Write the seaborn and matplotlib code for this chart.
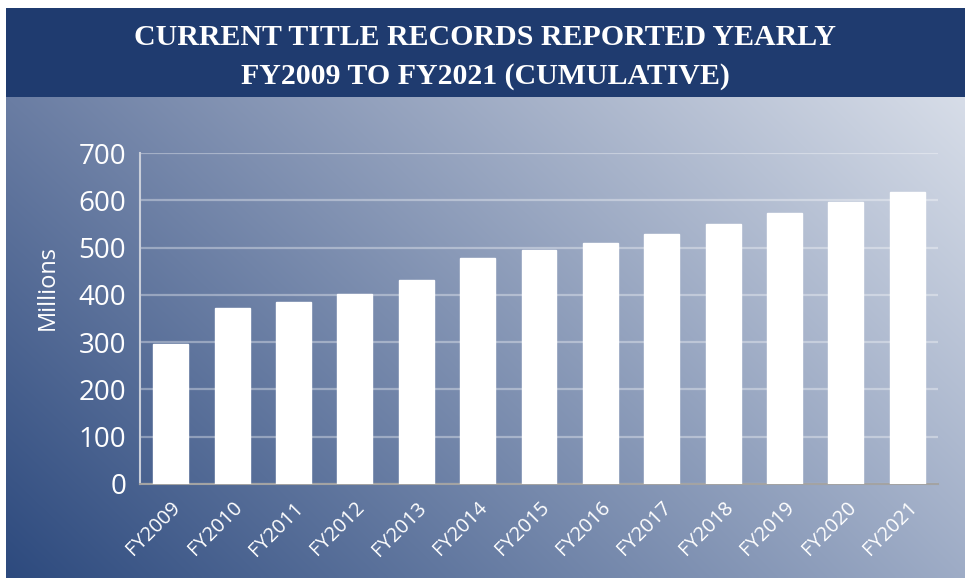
import numpy as np
import pandas as pd
import matplotlib
matplotlib.use("Agg")
import matplotlib.pyplot as plt
import seaborn as sns
from matplotlib.colors import to_rgb

categories = ["FY2009", "FY2010", "FY2011", "FY2012", "FY2013", "FY2014", "FY2015",
              "FY2016", "FY2017", "FY2018", "FY2019", "FY2020", "FY2021"]
values = [296, 372, 385, 402, 431, 478, 495, 510, 529, 550, 573, 596, 617]
yticks = [0, 100, 200, 300, 400, 500, 600, 700]
title_lines = ["CURRENT TITLE RECORDS REPORTED YEARLY", "FY2009 TO FY2021 (CUMULATIVE)"]
ylabel = "Millions"

sns.set_theme(style="white")
plt.rcParams['font.family'] = ['Open Sans', 'DejaVu Sans']

W, H = 965, 581
fig = plt.figure(figsize=(W / 100, H / 100), dpi=100)
fig.patch.set_facecolor("white")

# gradient panel
bg = fig.add_axes([6 / W, 3 / H, 959 / W, (578 - 97) / H])
bg.set_axis_off()
bl = np.array(to_rgb("#2D4A7E"))
tl = np.array(to_rgb("#6A7DA3"))
tr = np.array(to_rgb("#D7DDE8"))
br = np.array(to_rgb("#9EACC6"))
ny, nx = 200, 400
u = np.linspace(0, 1, nx)[None, :, None]
v = np.linspace(0, 1, ny)[:, None, None]  # 0 = top
img = (1 - u) * (1 - v) * tl + u * (1 - v) * tr + (1 - u) * v * bl + u * v * br
bg.imshow(img, aspect="auto", extent=[0, 1, 0, 1], interpolation="bilinear")

# title banner
ban = fig.add_axes([6 / W, (581 - 97) / H, 959 / W, (97 - 8) / H])
ban.set_axis_off()
ban.add_patch(plt.Rectangle((0, 0), 1, 1, color="#1F3B6F", transform=ban.transAxes))
ban.set_xlim(0, 1)
ban.set_ylim(0, 1)
ban.text(0.5, 0.67, title_lines[0], ha="center", va="center", color="white",
         fontsize=21.5, fontweight="bold", family="Liberation Serif")
ban.text(0.5, 0.23, title_lines[1], ha="center", va="center", color="white",
         fontsize=21.5, fontweight="bold", family="Liberation Serif")

# main axes
ax = fig.add_axes([140 / W, (581 - 484) / H, (938 - 140) / W, (484 - 153) / H])
ax.set_facecolor("none")
df = pd.DataFrame({"cat": categories, "val": values})
sns.barplot(data=df, x="cat", y="val", color="white", saturation=1, width=0.57, ax=ax, zorder=3)
ax.set_xlim(-0.5, len(categories) - 0.5)
ax.set_ylim(0, 700)
ax.set_yticks(yticks)
ax.set_yticklabels([str(t) for t in yticks], fontsize=20, color="white")
ax.yaxis.grid(True, color="white", alpha=0.35, linewidth=1.6, zorder=0)
ax.set_axisbelow(True)
ax.tick_params(axis="y", length=0, pad=10)
ax.tick_params(axis="x", length=0, pad=10)
ax.set_xticks(range(len(categories)))
ax.set_xticklabels(categories, rotation=45, ha="right", rotation_mode="anchor",
                   fontsize=14.5, color="white")
ax.set_xlabel("")
ax.set_ylabel(ylabel, fontsize=17, color="white")
ax.yaxis.set_label_coords(-0.1, 0.595)
for s in ["top", "right"]:
    ax.spines[s].set_visible(False)
ax.spines["left"].set_color("#C9CED9")
ax.spines["left"].set_linewidth(1.5)
ax.spines["bottom"].set_color("#A3A3A3")
ax.spines["bottom"].set_linewidth(1.5)

fig.savefig("out.png", dpi=100, facecolor="white")
